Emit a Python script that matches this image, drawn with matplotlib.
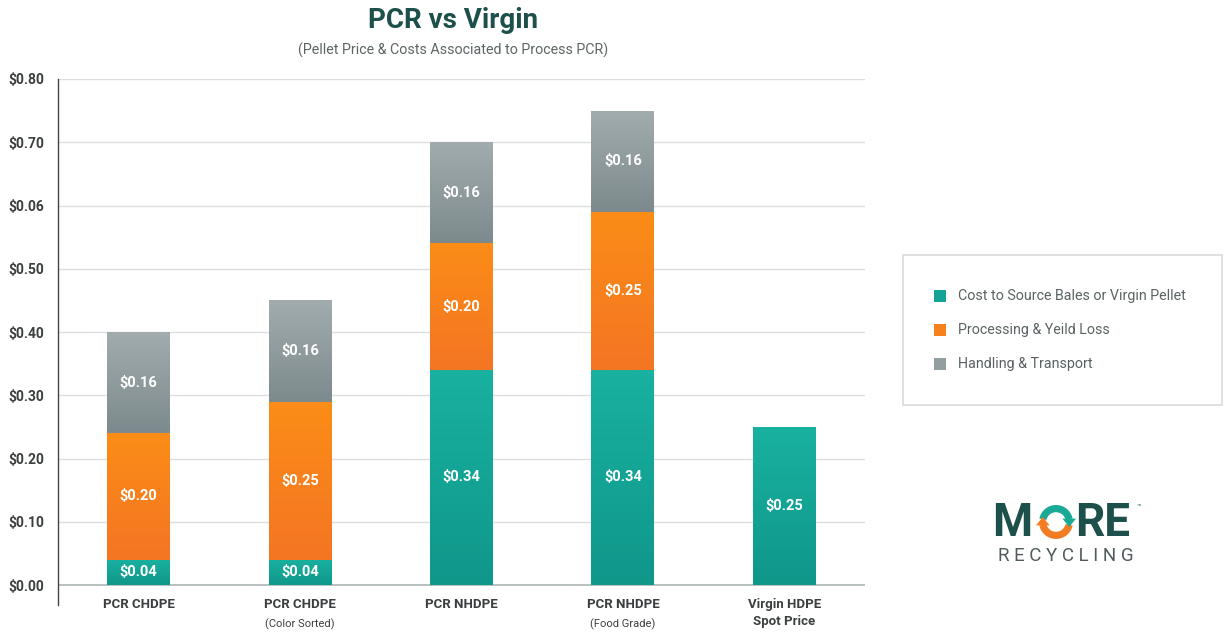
import matplotlib
matplotlib.use("Agg")
import matplotlib.pyplot as plt
import numpy as np
from matplotlib.patches import Rectangle, Wedge
from matplotlib.colors import LinearSegmentedColormap
import matplotlib.transforms as mtransforms

plt.rcParams['font.family'] = ['Roboto', 'DejaVu Sans']

categories = ["PCR CHDPE", "PCR CHDPE", "PCR NHDPE", "PCR NHDPE", "Virgin HDPE\nSpot Price"]
subtitles = ["", "(Color Sorted)", "", "(Food Grade)", ""]
source_cost = [0.04, 0.04, 0.34, 0.34, 0.25]
processing = [0.20, 0.25, 0.20, 0.25, 0.0]
handling = [0.16, 0.16, 0.16, 0.16, 0.0]
series_names = ["Cost to Source Bales or Virgin Pellet", "Processing & Yeild Loss", "Handling & Transport"]
ytick_values = [0.0, 0.1, 0.2, 0.3, 0.4, 0.5, 0.6, 0.7, 0.8]
ytick_labels = ["$0.00", "$0.10", "$0.20", "$0.30", "$0.40", "$0.50", "$0.06", "$0.70", "$0.80"]

colors_top = ["#19b1a0", "#fb8d17", "#a2acae"]
colors_bot = ["#0f978a", "#f47523", "#7d8a8d"]
legend_colors = ["#14a394", "#f7821d", "#939ea0"]

fig = plt.figure(figsize=(12.25, 6.32), dpi=100)
fig.patch.set_facecolor("white")
ax = fig.add_axes([58/1225, 1-605/632, (865-58)/1225, (605-79)/632])
ymin = -0.0316
ax.set_ylim(ymin, 0.80)
x = np.arange(len(categories))
ax.set_xlim(-0.5, 4.5)
width = 0.39

# grid
for v in ytick_values:
    ax.axhline(v, color="#dcdfdf" if v > 0 else "#b9c0c0", lw=1.0 if v > 0 else 1.4, zorder=0)

def grad_bar(xc, bottom, height, ctop, cbot):
    rect = Rectangle((xc - width/2, bottom), width, height, facecolor="none", edgecolor="none")
    ax.add_patch(rect)
    cmap = LinearSegmentedColormap.from_list("g", [cbot, ctop])
    grad = np.linspace(0, 1, 100).reshape(-1, 1)
    im = ax.imshow(grad, cmap=cmap, origin="lower", aspect="auto",
                   extent=(xc - width/2, xc + width/2, bottom, bottom + height), zorder=2)
    im.set_clip_path(rect)

series = [source_cost, processing, handling]
for i in range(len(categories)):
    bottom = 0.0
    for s, vals in enumerate(series):
        h = vals[i]
        if h <= 0:
            continue
        grad_bar(x[i], bottom, h, colors_top[s], colors_bot[s])
        ax.text(x[i], bottom + h/2, f"${h:.2f}", ha="center", va="center",
                color="white", fontsize=10.5, fontweight="bold", zorder=3)
        bottom += h

ax.set_xlim(-0.5, 4.5)
ax.set_ylim(ymin, 0.80)
ax.set_yticks(ytick_values)
ax.set_yticklabels(ytick_labels, fontsize=10, fontweight="bold", color="#3b3f40")
ax.tick_params(axis="y", length=0, pad=10)
ax.set_xticks([])
for sp in ["top", "right", "bottom"]:
    ax.spines[sp].set_visible(False)
ax.spines["left"].set_color("#444444")
ax.spines["left"].set_linewidth(1.0)

# category labels
trans = mtransforms.blended_transform_factory(ax.transData, fig.transFigure)
for i, (c, sub) in enumerate(zip(categories, subtitles)):
    ax.text(x[i], 1-598/632, c, transform=trans, ha="center", va="top",
            fontsize=9.5, fontweight="bold", color="#3b3f40", linespacing=1.35)
    if sub:
        ax.text(x[i], 1-618/632, sub, transform=trans, ha="center", va="top",
                fontsize=8, color="#3b3f40")

# title
fig.text(453/1225, 1-20/632, "PCR vs Virgin", ha="center", va="center",
         fontsize=20, fontweight="bold", color="#1d4f4b")
fig.text(453/1225, 1-50/632, "(Pellet Price & Costs Associated to Process PCR)", ha="center",
         va="center", fontsize=10.3, color="#5d6566")

# legend box
lb = Rectangle((903/1225, 1-405/632), (1222-903)/1225, (405-255)/632, transform=fig.transFigure,
               facecolor="white", edgecolor="#d9dcdc", lw=1.2)
fig.patches.append(lb)
for k, (name, col) in enumerate(zip(series_names, legend_colors)):
    yy = 296 + k*34
    sq = Rectangle((934/1225, 1-(yy+6)/632), 12/1225, 12/632, transform=fig.transFigure,
                   facecolor=col, edgecolor="none")
    fig.patches.append(sq)
    fig.text(958/1225, 1-yy/632, name, ha="left", va="center", fontsize=10.3, color="#5a6263")

# logo
fig.text(992/1225, 1-523/632, "M", ha="left", va="center", fontsize=33, fontweight="bold", color="#1d4f4b")
cx, cy = 1056, 522
ring_ax = fig.add_axes([(cx-20)/1225, 1-(cy+20)/632, 40/1225, 40/632])
ring_ax.set_xlim(-1, 1); ring_ax.set_ylim(-1, 1); ring_ax.axis("off")
ring_ax.add_patch(Wedge((0, 0), 0.85, 12, 168, width=0.36, facecolor="#1aa995"))
ring_ax.add_patch(Wedge((0, 0), 0.85, 192, 348, width=0.36, facecolor="#f37b22"))
ring_ax.add_patch(plt.Polygon([[1.0, 0.17], [0.32, 0.17], [0.66, -0.25]], facecolor="#1aa995"))
ring_ax.add_patch(plt.Polygon([[-1.0, -0.17], [-0.32, -0.17], [-0.66, 0.25]], facecolor="#f37b22"))
fig.text(1075/1225, 1-523/632, "RE", ha="left", va="center", fontsize=33, fontweight="bold", color="#1d4f4b")
fig.text(1137/1225, 1-507/632, "™", ha="left", va="center", fontsize=5, color="#1d4f4b")
fig.text(1066/1225, 1-556/632, "R E C Y C L I N G", ha="center", va="center", fontsize=13.5, color="#4f5b5c")

fig.savefig("out.png", dpi=100, facecolor="white")
